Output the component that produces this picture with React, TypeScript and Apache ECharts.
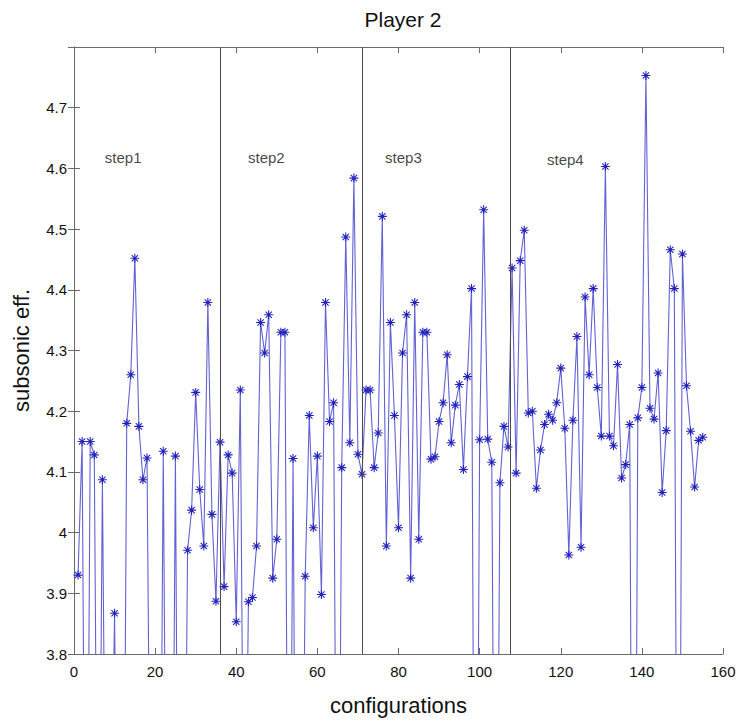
import React, { useEffect, useRef } from "react";
import * as echarts from "echarts";

// configuration index (1..155)
const configurations: number[] = Array.from({ length: 155 }, (_, i) => i + 1);

// subsonic efficiency per configuration (values below 3.8 fall off the plotted range)
const efficiency: number[] = [
  3.93, 4.15, 3.1, 4.15, 4.128, 3.2, 4.087, 3.3, 3.4, 3.867,
  3.2, 3.1, 4.18, 4.26, 4.452, 4.175, 4.087, 4.123, 3.3, 3.2,
  3.1, 4.134, 3.2, 3.1, 4.126, 3.0, 3.2, 3.971, 4.037, 4.231,
  4.071, 3.978, 4.379, 4.03, 3.887, 4.149, 3.911, 4.128, 4.098, 3.853,
  4.235, 3.3, 3.886, 3.893, 3.978, 4.346, 4.296, 4.359, 3.925, 3.989,
  4.33, 4.33, 3.1, 4.122, 3.0, 3.2, 3.928, 4.193, 4.008, 4.126,
  3.898, 4.379, 4.183, 4.214, 3.1, 4.107, 4.487, 4.148, 4.584, 4.129,
  4.096, 4.235, 4.235, 4.107, 4.164, 4.521, 3.978, 4.346, 4.193, 4.008,
  4.296, 4.359, 3.925, 4.379, 3.989, 4.33, 4.33, 4.121, 4.125, 4.183,
  4.214, 4.293, 4.148, 4.21, 4.244, 4.104, 4.257, 4.402, 2.9, 4.153,
  4.532, 4.154, 4.116, 3.0, 4.082, 4.175, 4.141, 4.436, 4.098, 4.448,
  4.498, 4.197, 4.2, 4.073, 4.136, 4.178, 4.195, 4.185, 4.214, 4.271,
  4.172, 3.963, 4.185, 4.323, 3.976, 4.388, 4.26, 4.402, 4.239, 4.159,
  4.603, 4.159, 4.143, 4.277, 4.09, 4.112, 4.178, 2.8, 4.189, 4.239,
  4.753, 4.205, 4.187, 4.263, 4.066, 4.168, 4.466, 4.402, 2.9, 4.459,
  4.242, 4.167, 4.075, 4.152, 4.157,
];

// boundaries between optimisation steps
const stepBoundaries: number[] = [36, 71, 107.5];

// step captions and where they sit
const stepNames: string[] = ["step1", "step2", "step3", "step4"];
const stepLabelX: number[] = [7.6, 42.9, 76.7, 116.6];
const stepLabelY: number[] = [4.618, 4.618, 4.618, 4.614];

const xTicks = { min: 0, max: 160, interval: 20 };
const yTicks = { min: 3.8, max: 4.8, interval: 0.1 };

// asterisk marker built from four filled bars
const ASTERISK =
  "path://M4.4,0 h1.2 v10 h-1.2 Z M0,4.4 h10 v1.2 h-10 Z " +
  "M1.92,1.08 L8.92,8.08 L8.08,8.92 L1.08,1.92 Z " +
  "M8.08,1.08 L8.92,1.92 L1.92,8.92 L1.08,8.08 Z";

const FONT = "'Liberation Sans', Arial, Helvetica, sans-serif";
const BOX = "#6a6a6a";

export default function App() {
  const ref = useRef<HTMLDivElement>(null);

  useEffect(() => {
    if (!ref.current) return;
    const chart = echarts.init(ref.current, undefined, { renderer: "svg" });

    const points = configurations.map((c, i) => [c, efficiency[i]]);
    const labels = stepNames.map((n, i) => ({ name: n, value: [stepLabelX[i], stepLabelY[i]] }));

    const boxAxis = {
      axisLine: { show: true, lineStyle: { color: BOX, width: 1 } },
      axisTick: { show: true, inside: true, length: 6, lineStyle: { color: BOX } },
      splitLine: { show: false },
    };

    chart.setOption({
      animation: false,
      backgroundColor: "#ffffff",
      title: {
        text: "Player 2",
        left: 398,
        textAlign: "center",
        top: 4,
        textStyle: { fontFamily: FONT, fontSize: 21, fontWeight: "normal", color: "#111" },
      },
      grid: { left: 74, right: 16, top: 47, bottom: 67 },
      xAxis: [
        {
          type: "value",
          ...xTicks,
          position: "bottom",
          ...boxAxis,
          axisLabel: { fontFamily: FONT, fontSize: 15, color: "#111", margin: 10 },
          name: "configurations",
          nameLocation: "middle",
          nameGap: 40,
          nameTextStyle: { fontFamily: FONT, fontSize: 22, color: "#111" },
        },
        {
          type: "value",
          ...xTicks,
          position: "top",
          ...boxAxis,
          axisLabel: { show: false },
        },
      ],
      yAxis: [
        {
          type: "value",
          ...yTicks,
          position: "left",
          ...boxAxis,
          axisLabel: { fontFamily: FONT, fontSize: 15, color: "#111", margin: 7, showMaxLabel: false },
          name: "subsonic eff.",
          nameLocation: "middle",
          nameGap: 42,
          nameTextStyle: { fontFamily: FONT, fontSize: 22, color: "#111" },
        },
        {
          type: "value",
          ...yTicks,
          position: "right",
          ...boxAxis,
          axisLabel: { show: false },
        },
      ],
      series: [
        {
          type: "line",
          data: points,
          xAxisIndex: 0,
          yAxisIndex: 0,
          clip: true,
          symbol: ASTERISK,
          symbolSize: 9,
          showAllSymbol: true,
          itemStyle: { color: "#2222bb" },
          lineStyle: { color: "#6262d4", width: 1.1 },
          markLine: {
            silent: true,
            symbol: ["none", "none"],
            label: { show: false },
            lineStyle: { color: "#4a4a4a", width: 1, type: "solid" },
            data: stepBoundaries.map((b) => ({ xAxis: b })),
          },
          z: 3,
        },
        {
          type: "scatter",
          data: labels,
          symbolSize: 0,
          silent: true,
          label: {
            show: true,
            position: "right",
            distance: 0,
            formatter: (p: any) => p.name,
            fontFamily: FONT,
            fontSize: 15,
            color: "#111",
          },
        },
      ],
    });

    return () => chart.dispose();
  }, []);

  return (
    <div
      ref={ref}
      style={{ position: "fixed", left: 0, top: 0, width: 739, height: 721, background: "#fff" }}
    />
  );
}
